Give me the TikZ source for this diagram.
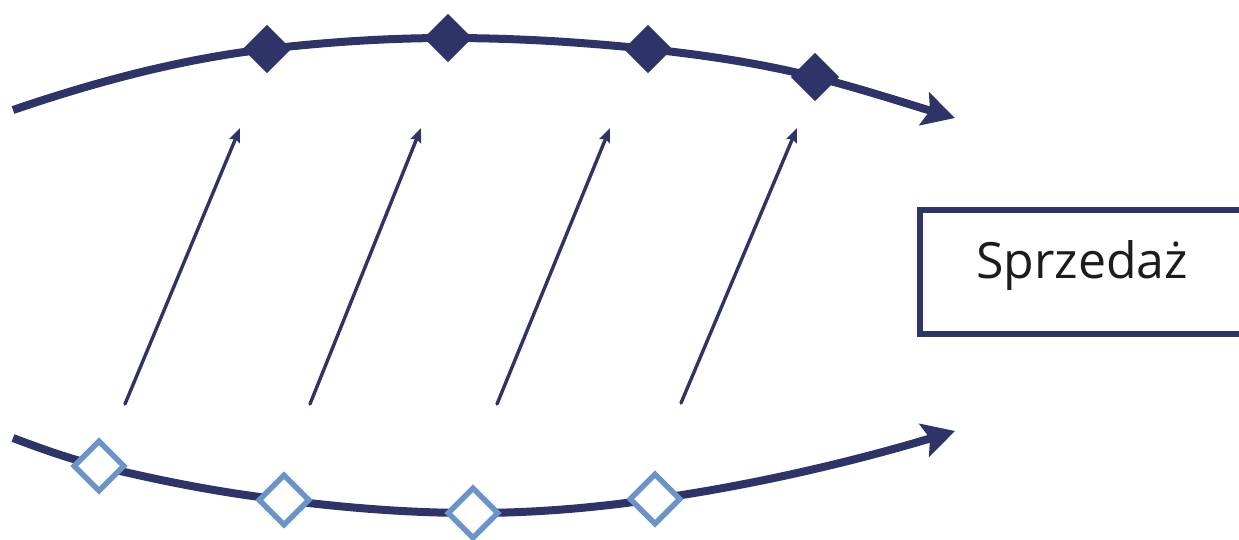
\documentclass[tikz,border=0pt]{standalone}
\usepackage{fontspec}
\setmainfont{Open Sans}
\usetikzlibrary{arrows.meta}
\definecolor{navy}{HTML}{2E3368}
\definecolor{lblue}{HTML}{6A94C8}
\definecolor{txt}{HTML}{1C1C1C}
\tikzset{
  mainline/.style={draw=navy, line width=8pt, -{Stealth[length=32pt,width=34pt,inset=6pt]}},
  thinarrow/.style={draw=navy, line width=3.4pt, line cap=round, -{Stealth[length=14pt,width=11pt,inset=2pt]}},
  fulldiam/.style={rectangle, rotate=45, fill=navy, minimum size=34pt, inner sep=0pt},
  opendiam/.style={rectangle, rotate=45, fill=white, draw=lblue, line width=5.5pt, minimum size=35pt, inner sep=0pt},
  salesbox/.style={draw=navy, line width=6pt, minimum width=325pt, minimum height=124pt, text height=30pt, text depth=18pt, inner sep=0pt, font=\fontsize{50}{56}\selectfont, text=txt}
}
\begin{document}
\begin{tikzpicture}[x=1pt,y=-1pt]
\useasboundingbox (0,0) rectangle (1239,539);
% top curve points
\coordinate (t0) at (13,110);
\coordinate (t1) at (267,49);
\coordinate (t2) at (448,38);
\coordinate (t3) at (648,49);
\coordinate (t4) at (815,77);
\coordinate (t5) at (955,118);
% bottom curve points
\coordinate (b0) at (13,438);
\coordinate (b1) at (99,466);
\coordinate (b2) at (284,500);
\coordinate (b3) at (473,513);
\coordinate (b4) at (655,499);
\coordinate (b5) at (955,431);
\draw[mainline] (t0) .. controls (98,81) and (182,59) .. (t1)
  .. controls (327,42) and (388,38) .. (t2)
  .. controls (515,38) and (581,42) .. (t3)
  .. controls (704,55) and (759,63) .. (t4)
  .. controls (862,89) and (908,104) .. (t5);
\draw[mainline] (b0) .. controls (42,449) and (70,459) .. (b1)
  .. controls (161,481) and (222,493) .. (b2)
  .. controls (347,508) and (410,513) .. (b3)
  .. controls (534,513) and (594,508) .. (b4)
  .. controls (755,485) and (855,461) .. (b5);
\foreach \i in {1,...,4} {
  \node[fulldiam] (fd\i) at (t\i) {};
  \node[opendiam] (od\i) at (b\i) {};
}
% thin arrows
\coordinate (s1) at (125,404);
\coordinate (e1) at (240,128);
\coordinate (s2) at (310,404);
\coordinate (e2) at (421,128);
\coordinate (s3) at (497,404);
\coordinate (e3) at (610,128);
\coordinate (s4) at (681,403);
\coordinate (e4) at (797,128);
\foreach \i in {1,...,4} {
  \draw[thinarrow] (s\i) -- (e\i);
}
\node[salesbox] (sales) at (1082,272) {Sprzedaż};
\end{tikzpicture}
\end{document}
